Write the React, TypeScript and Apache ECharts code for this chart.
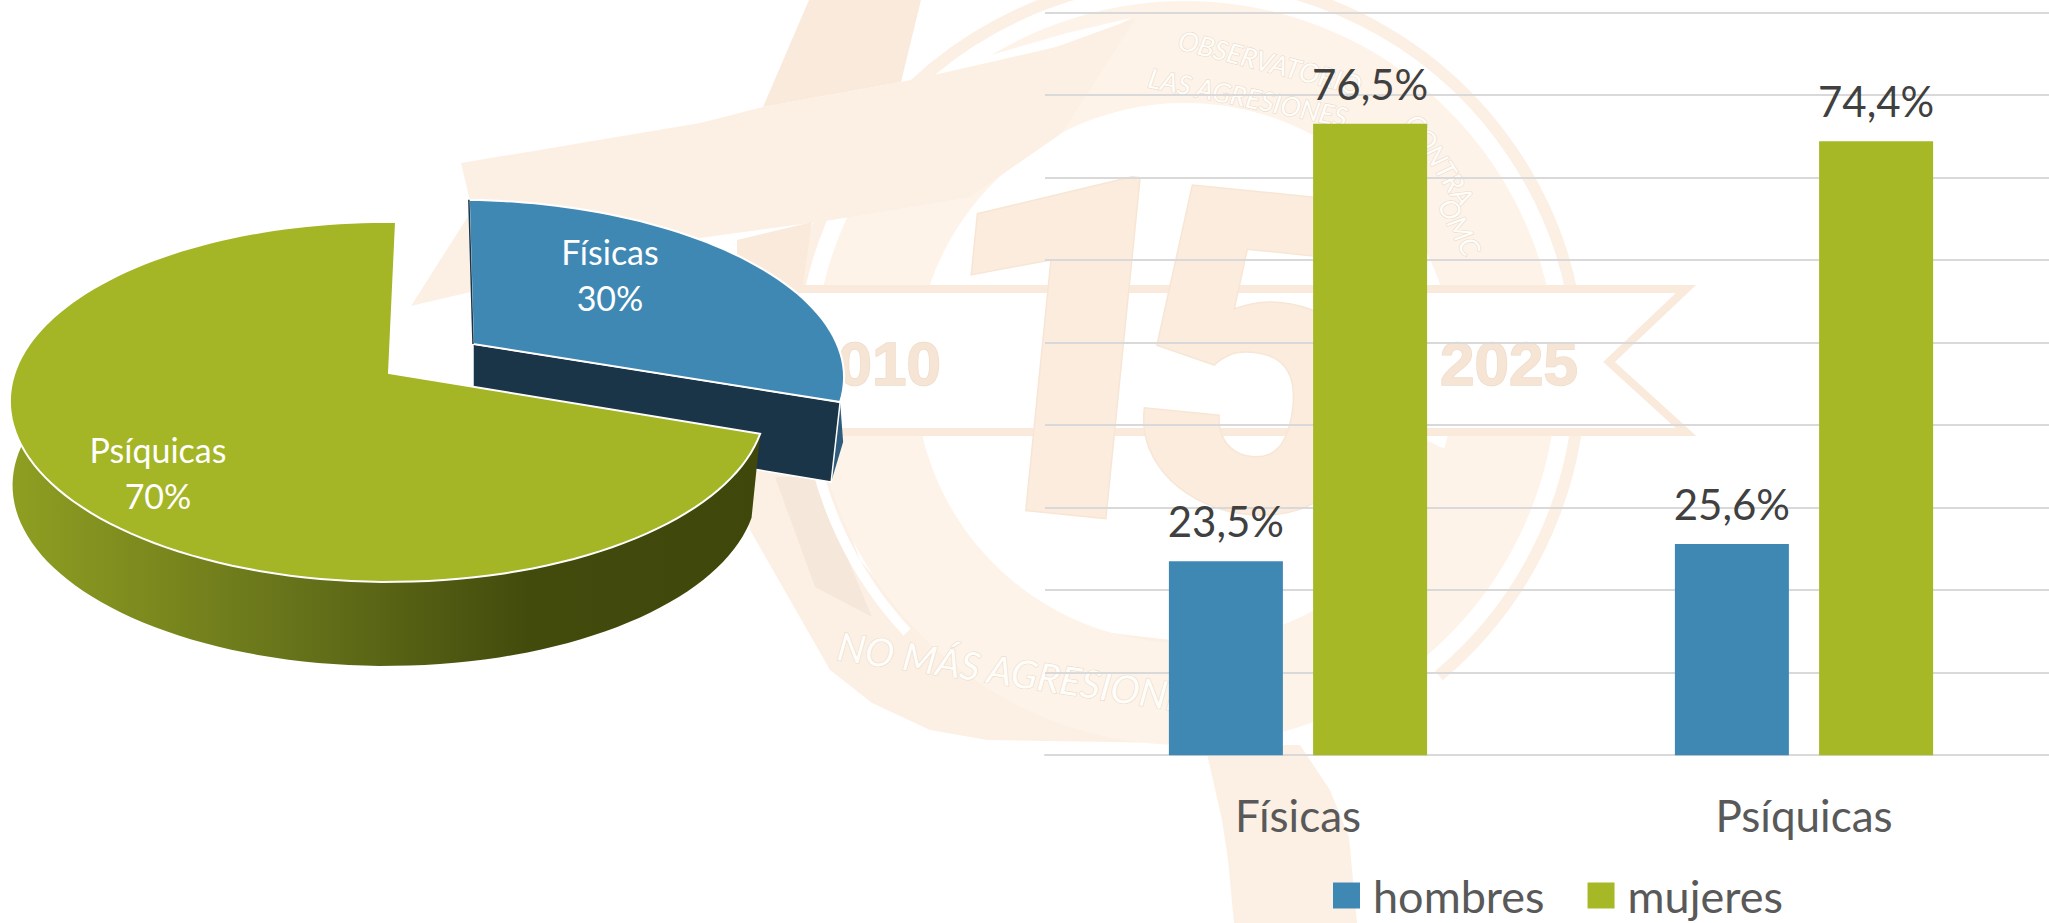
import React, { useEffect, useRef } from "react";
import * as echarts from "echarts";

const barCategories = ["Físicas", "Psíquicas"];
const hombres = [23.5, 25.6];
const mujeres = [76.5, 74.4];
const pieNames = ["Físicas", "Psíquicas"];
const pieValues = [30, 70];

const FONT = "Lato";
const BLUE = "#4088B4";
const GREEN = "#A6B826";
const RIBBON = "#FCF0E4";
const RIBBON2 = "#FAEADB";

// Perspective view of the pie disc
const CX = 389, CY = 373, A = 373, K = 0.161, B = -115.2, DEPTH = 84;
const rad = (d: number) => (d * Math.PI) / 180;
function project(thetaDeg: number, r = 1, lower = false): number[] {
  const t = rad(thetaDeg);
  const u = r * Math.sin(t), v = r * Math.cos(t);
  const d = 1 + K * v;
  const s = lower ? 0.985 : 1;
  return [CX + (lower ? -3 : 0) + 7 * v + (A * s * u) / d, (B * v + CY) / d + 4 * u + (lower ? DEPTH : 0)];
}
// exploded slice: moved, and slightly smaller because it lies further away
const BLUE_APEX = [473, 344];
function projectOut(thetaDeg: number, r = 1, lower = false): number[] {
  const p = project(thetaDeg, r, false);
  const x = BLUE_APEX[0] + (p[0] - CX) * 0.98 - 11 * r * Math.cos(rad(thetaDeg)) - (lower ? 9 : 0);
  const y = BLUE_APEX[1] + (p[1] - CY) * 0.955 + (lower ? DEPTH - 4 : 0);
  return [x, y];
}
function arc(f: (t: number, r?: number, lower?: boolean) => number[], from: number, to: number, lower = false) {
  const pts: number[][] = [];
  const n = Math.max(2, Math.ceil(Math.abs(to - from) / 2));
  for (let i = 0; i <= n; i++) pts.push(f(from + ((to - from) * i) / n, 1, lower));
  return pts;
}
const pieTotal = pieValues.reduce((a, b) => a + b, 0);

function renderSlice(params: any) {
  const i = params.dataIndex;
  const before = pieValues.slice(0, i).reduce((a, b) => a + b, 0);
  const start = (before / pieTotal) * 360;
  const end = ((before + pieValues[i]) / pieTotal) * 360;
  const children: any[] = [];
  if (i === 0) {
    const apexT = BLUE_APEX;
    const apexL = [apexT[0], apexT[1] + DEPTH - 6];
    const outerT = projectOut(end);
    const outerL = projectOut(end, 1, true);
    children.push({
      type: "polygon",
      shape: { points: [outerT, outerL, [outerT[0] + 3, outerL[1] - 40]] },
      style: { fill: "#2F5C7C" },
    });
    children.push({
      type: "polygon",
      shape: { points: [apexT, outerT, outerL, apexL] },
      style: { fill: "#1A3548", stroke: "#ffffff", lineWidth: 1.5 },
    });
    children.push({
      type: "polygon",
      shape: { points: [apexT, ...arc(projectOut, start, end)] },
      style: { fill: BLUE, stroke: "#ffffff", lineWidth: 2 },
    });
    children.push({
      type: "polyline",
      shape: { points: [projectOut(start), apexT] },
      style: { stroke: "#1A3548", lineWidth: 1.5, fill: "none" },
    });
    children.push({
      type: "text",
      style: {
        text: `${pieNames[i]}\n${pieValues[i]}%`, x: 610, y: 274, fill: "#fff",
        font: `34px ${FONT}`, lineHeight: 46, align: "center", verticalAlign: "middle",
      },
    });
  } else {
    const wall = [...arc(project, start, 292), ...arc(project, 292, start, true)];
    children.push({
      type: "polygon",
      shape: { points: wall },
      style: {
        fill: new echarts.graphic.LinearGradient(1, 0, 0, 0, [
          { offset: 0, color: "#3F470B" },
          { offset: 0.3, color: "#424A0C" },
          { offset: 0.62, color: "#67731A" },
          { offset: 1, color: "#8F9F22" },
        ]),
      },
    });
    children.push({
      type: "polygon",
      shape: { points: [project(0, 0), ...arc(project, start, end)] },
      style: { fill: "#A4B526", stroke: "#ffffff", lineWidth: 2 },
    });
    children.push({
      type: "text",
      style: {
        text: `${pieNames[i]}\n${pieValues[i]}%`, x: 158, y: 472, fill: "#fff",
        font: `34px ${FONT}`, lineHeight: 46, align: "center", verticalAlign: "middle",
      },
    });
  }
  return { type: "group", children };
}

const inscription = (font: string) => ({
  fill: "#FFFDFA", stroke: "#EADBCB", lineWidth: 1.2, font,
  align: "center" as const, verticalAlign: "middle" as const,
});

const logoElements: any[] = [
  // lower-left ribbon
  { type: "polygon", shape: { points: [[740, 432], [750, 530], [790, 600], [830, 670], [872, 703], [930, 730], [987, 740], [1171, 743], [1230, 735], [1260, 690], [1171, 640], [1000, 620], [912, 623], [860, 560], [830, 477], [815, 432]] }, style: { fill: RIBBON } },
  { type: "polygon", shape: { points: [[775, 477], [815, 587], [872, 617], [840, 540], [820, 477]] }, style: { fill: "#F6E7DB" } },
  { type: "arc", shape: { cx: 1185, cy: 373, r: 380, startAngle: rad(137), endAngle: rad(172), clockwise: true }, style: { fill: "none", stroke: "#ffffff", lineWidth: 10 } },
  // ring
  { type: "ring", shape: { cx: 1185, cy: 373, r0: 270, r: 372 }, style: { fill: "#FDF3E9" } },
  { type: "arc", shape: { cx: 1185, cy: 373, r: 395, startAngle: rad(190), endAngle: rad(410), clockwise: true }, style: { fill: "none", stroke: RIBBON, lineWidth: 12 } },
  { type: "polygon", shape: { points: [[947, 72], [998, 53], [1067, 33], [1131, 18], [1096, 37], [1044, 55], [993, 65]] }, style: { fill: "#ffffff" } },
  // ribbons
  { type: "polygon", shape: { points: [[809, 0], [921, 0], [901, 82], [763, 107]] }, style: { fill: RIBBON2 } },
  { type: "polygon", shape: { points: [[461, 163], [700, 123], [763, 107], [901, 82], [947, 72], [1056, 47], [1136, 18], [1062, 133], [970, 197], [832, 220], [700, 238], [411, 306], [472, 210]] }, style: { fill: RIBBON } },
  { type: "polygon", shape: { points: [[737, 240], [812, 222], [803, 285], [737, 285]] }, style: { fill: RIBBON2 } },
  { type: "polygon", shape: { points: [[1205, 745], [1300, 745], [1330, 790], [1349, 837], [1357, 923], [1234, 923], [1228, 860], [1222, 820]] }, style: { fill: RIBBON } },
  // banner
  { type: "polygon", shape: { points: [[740, 289], [1686, 289], [1609, 362], [1686, 432], [740, 432]] }, style: { fill: "#FFFFFF", stroke: RIBBON2, lineWidth: 8 } },
  // numerals
  { type: "text", rotation: -0.1, x: 1065, y: 349, style: { text: "1", fill: "#FBECDE", stroke: "#F8E6D5", lineWidth: 3, font: `900 480px Roboto`, align: "center", verticalAlign: "middle" } },
  { type: "text", rotation: -0.1, x: 1262, y: 358, style: { text: "5", fill: "#FBECDE", stroke: "#F8E6D5", lineWidth: 3, font: `900 445px Roboto`, align: "center", verticalAlign: "middle" } },
  { type: "polygon", shape: { points: [[1427, 440], [1440, 447], [1509, 470], [1486, 487], [1504, 537], [1440, 510], [1427, 505]] }, style: { fill: "#FDF3E8" } },
  // years
  { type: "text", style: { text: "2010", x: 872, y: 363, fill: "#F6E5D5", stroke: "#EFDCCB", lineWidth: 1.5, font: `bold 62px "Liberation Sans"`, align: "center", verticalAlign: "middle" } },
  { type: "text", style: { text: "2025", x: 1509, y: 363, fill: "#F6E5D5", stroke: "#EFDCCB", lineWidth: 1.5, font: `bold 62px "Liberation Sans"`, align: "center", verticalAlign: "middle" } },
  // inscriptions
  { type: "text", rotation: -0.25, x: 1270, y: 62, style: { text: "OBSERVATORIO", ...inscription(`italic 27px ${FONT}`) } },
  { type: "text", rotation: -0.2, x: 1248, y: 97, style: { text: "LAS AGRESIONES", ...inscription(`italic 27px ${FONT}`) } },
  { type: "text", rotation: -1.0, x: 1440, y: 160, style: { text: "CONTRA", ...inscription(`italic 27px ${FONT}`) } },
  { type: "text", rotation: -1.1, x: 1460, y: 227, style: { text: "OMC", ...inscription(`italic 27px ${FONT}`) } },
  { type: "text", rotation: -0.15, x: 838, y: 645, style: { text: "NO MÁS AGRESIONES", ...inscription(`italic 39px ${FONT}`), align: "left" } },
].map((e) => ({ ...e, silent: true, z: -10 }));

const barLabel = {
  show: true,
  position: "top" as const,
  distance: 19,
  color: "#404040",
  fontFamily: FONT,
  fontSize: 42,
  formatter: (p: any) => `${p.value.toFixed(1).replace(".", ",")}%`,
};

export default function App() {
  const ref = useRef<HTMLDivElement>(null);
  useEffect(() => {
    const chart = echarts.init(ref.current!, null, { renderer: "svg" });
    chart.setOption({
      animation: false,
      backgroundColor: "#ffffff",
      graphic: { z: -10, elements: logoElements },
      legend: {
        data: ["hombres", "mujeres"],
        left: 1333,
        top: 873,
        padding: 0,
        icon: "rect",
        itemWidth: 27,
        itemHeight: 26,
        itemGap: 43,
        textStyle: { color: "#595959", fontFamily: FONT, fontSize: 45, padding: [0, 0, 0, 8] },
      },
      grid: { left: 1045, top: 12.4, width: 1012, height: 742.8, containLabel: false, outerBoundsMode: "none" },
      xAxis: {
        type: "category",
        data: barCategories,
        axisTick: { show: false },
        axisLine: { lineStyle: { color: "#D9D9D9", width: 2 } },
        axisLabel: { color: "#595959", fontFamily: FONT, fontSize: 44, margin: 38 },
      },
      yAxis: {
        type: "value",
        min: 0,
        max: 90,
        interval: 10,
        axisLabel: { show: false },
        axisLine: { show: false },
        axisTick: { show: false },
        splitLine: { lineStyle: { color: "#D9D9D9", width: 2 } },
      },
      series: [
        {
          name: "hombres", type: "bar", data: hombres, barWidth: 114, barGap: "26.5%",
          itemStyle: { color: BLUE }, label: barLabel,
        },
        {
          name: "mujeres", type: "bar", data: mujeres, barWidth: 114,
          itemStyle: { color: GREEN }, label: barLabel,
        },
        {
          type: "custom",
          coordinateSystem: "none",
          renderItem: renderSlice,
          data: pieValues.map((value, i) => ({ value, name: pieNames[i] })),
          z: 5,
          silent: true,
        },
      ],
    });
    return () => chart.dispose();
  }, []);
  return <div ref={ref} style={{ position: "fixed", left: 0, top: 0, width: 2049, height: 923 }} />;
}
